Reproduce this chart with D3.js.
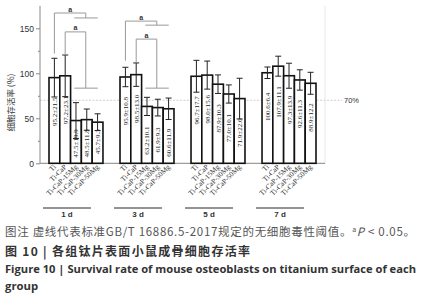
<!DOCTYPE html>
<html>
<head>
<meta charset="utf-8">
<script src="https://cdn.jsdelivr.net/npm/d3@7"></script>
<style>
  body { margin: 0; background: #fff; }
  svg { display: block; }
</style>
</head>
<body>
<svg id="chart" width="429" height="300"></svg>
<script>
const days = ['1 d', '3 d', '5 d', '7 d'];
const groups = ['Ti', 'Ti-CaP', 'Ti-CaP-15Mg', 'Ti-CaP-30Mg', 'Ti-CaP-50Mg'];
const means = [
  [95.2, 97.2, 47.5, 48.5, 45.7],
  [95.9, 98.5, 63.2, 61.9, 60.6],
  [96.7, 98.0, 87.9, 77.0, 71.9],
  [100.6, 107.9, 97.3, 92.6, 88.9]
];
const sds = [
  [21.5, 23.1, 19.9, 11.8, 9.3],
  [10.8, 13.0, 10.1, 9.3, 11.9],
  [17.7, 15.6, 10.3, 10.1, 22.6],
  [6.4, 11.1, 13.9, 11.3, 12.2]
];
const yTicks = [0, 50, 100, 150];
const yMinorTicks = [25, 75, 125];
const threshold = 70;
// significance brackets: day, bar it starts from, top level, leg bottom, level of the target line
const brackets = [
  {day: '1 d', from: 'Ti', top: 167, legEnd: 122, target: 161.5},
  {day: '1 d', from: 'Ti-CaP', top: 146, legEnd: 120, target: 83.5},
  {day: '3 d', from: 'Ti', top: 158, legEnd: 114, target: 153.5},
  {day: '3 d', from: 'Ti-CaP', top: 138, legEnd: 112, target: 83.5}
];

const svg = d3.select('#chart');
const pLeft = 40, pRight = 325, pTop = 5.8, pBottom = 163.3;

const x = d3.scaleBand().domain(days).range([49, 316]).paddingInner(0.24);
const xi = d3.scaleBand().domain(groups).range([0, x.bandwidth()]);
const y = d3.scaleLinear().domain([0, 175]).range([pBottom, pTop]);

// threshold line
svg.append('line')
  .attr('x1', pLeft).attr('x2', 342)
  .attr('y1', y(threshold)).attr('y2', y(threshold))
  .attr('stroke', '#bbb').attr('stroke-width', 0.7)
  .attr('stroke-dasharray', '2,1.5');
svg.append('text')
  .attr('x', 344).attr('y', y(threshold) + 3)
  .attr('font-family', 'Liberation Sans, sans-serif')
  .attr('font-size', 7.5).attr('fill', '#333')
  .text('70%');

// faint right border
svg.append('line')
  .attr('x1', pRight).attr('x2', pRight).attr('y1', pTop).attr('y2', pBottom)
  .attr('stroke', '#ddd').attr('stroke-width', 0.7);

// x baseline
svg.append('line')
  .attr('x1', pLeft).attr('x2', pRight).attr('y1', pBottom).attr('y2', pBottom)
  .attr('stroke', '#666').attr('stroke-width', 0.8);

const bars = [];
days.forEach((d, i) => groups.forEach((g, j) => bars.push({day: d, group: g, v: means[i][j], e: sds[i][j]})));
const cx = b => x(b.day) + xi(b.group) + xi.bandwidth() / 2;

const bar = svg.append('g').selectAll('g').data(bars).join('g');
bar.append('rect')
  .attr('x', b => x(b.day) + xi(b.group))
  .attr('y', b => y(b.v))
  .attr('width', xi.bandwidth())
  .attr('height', b => pBottom - y(b.v))
  .attr('fill', '#fff').attr('stroke', '#111').attr('stroke-width', 1.6);

// error bars
bar.append('line')
  .attr('x1', cx).attr('x2', cx)
  .attr('y1', b => y(b.v - b.e)).attr('y2', b => y(b.v + b.e))
  .attr('stroke', '#222').attr('stroke-width', 1);
bar.selectAll('.cap').data(b => [[b, b.v - b.e], [b, b.v + b.e]]).join('line')
  .attr('x1', d => cx(d[0]) - 3).attr('x2', d => cx(d[0]) + 3)
  .attr('y1', d => y(d[1])).attr('y2', d => y(d[1]))
  .attr('stroke', '#222').attr('stroke-width', 1);

// value labels inside bars
bar.append('text')
  .attr('transform', b => `translate(${cx(b) + 2.5},${Math.min(y(b.v) + 20, pBottom - 34)}) rotate(-90)`)
  .attr('text-anchor', 'end')
  .attr('font-family', 'Liberation Serif, serif')
  .attr('font-size', 7).attr('fill', '#222')
  .text(b => `${b.v.toFixed(1)}±${b.e.toFixed(1)}`);

// rotated group labels
bar.append('text')
  .attr('transform', b => `translate(${cx(b) + 2},${pBottom + 4}) rotate(-45)`)
  .attr('text-anchor', 'end')
  .attr('font-family', 'Liberation Serif, serif')
  .attr('font-size', 7.3).attr('fill', '#333')
  .text(b => b.group);

// day underline and labels
const dayG = svg.append('g').selectAll('g').data(days).join('g');
dayG.append('line')
  .attr('x1', d => x(d) - 6).attr('x2', d => x(d) + x.bandwidth() - 12)
  .attr('y1', 208).attr('y2', 208)
  .attr('stroke', '#111').attr('stroke-width', 0.9);
dayG.append('text')
  .attr('x', d => x(d) + x.bandwidth() / 2 - 9).attr('y', 217)
  .attr('text-anchor', 'middle')
  .attr('font-family', 'Liberation Sans, sans-serif')
  .attr('font-size', 8).attr('font-weight', 'bold').attr('fill', '#333')
  .text(d => d);

// significance brackets
const br = svg.append('g').selectAll('g').data(brackets).join('g')
  .attr('stroke', '#999').attr('stroke-width', 1).attr('fill', 'none');
const bx = b => x(b.day) + xi(b.from) + xi.bandwidth() / 2;
const tx = b => x(b.day) + xi('Ti-CaP-30Mg') + xi.bandwidth() / 2 - 1;
br.append('path')
  .attr('d', b => `M${bx(b)},${y(b.legEnd)}V${y(b.top)}H${tx(b)}V${y(b.target)}`);
br.append('path')
  .attr('d', b => `M${tx(b) - 11.5},${y(b.target)}H${tx(b) + 12}`);
br.append('text')
  .attr('x', b => (bx(b) + tx(b)) / 2).attr('y', b => y(b.top) - 1.5)
  .attr('text-anchor', 'middle')
  .attr('stroke', 'none').attr('fill', '#333')
  .attr('font-family', 'Liberation Sans, sans-serif')
  .attr('font-size', 7).attr('font-weight', 'bold')
  .text('a');

// caption
const cap = svg.append('g');
const line1 = cap.append('text')
  .attr('x', 5).attr('y', 236)
  .attr('font-family', 'Noto Sans CJK SC, sans-serif')
  .attr('font-size', 11.5).attr('fill', '#555')
  .attr('textLength', 410).attr('lengthAdjust', 'spacing');
line1.append('tspan').text('图注 虚线代表标准GB/T 16886.5-2017规定的无细胞毒性阈值。');
line1.append('tspan').attr('font-size', 7).attr('dy', -4.5).text('a');
line1.append('tspan').attr('dy', 4.5).attr('font-style', 'italic').text('P');
line1.append('tspan').text(' < 0.05。');
cap.append('text')
  .attr('x', 5).attr('y', 256)
  .attr('font-family', 'Noto Sans CJK SC, sans-serif')
  .attr('font-size', 12).attr('font-weight', 'bold').attr('fill', '#333')
  .attr('textLength', 245).attr('lengthAdjust', 'spacing')
  .text('图 10 | 各组钛片表面小鼠成骨细胞存活率');
cap.append('text')
  .attr('x', 5).attr('y', 273)
  .attr('font-family', 'Open Sans, sans-serif')
  .attr('font-size', 11.3).attr('font-weight', 'bold').attr('fill', '#333')
  .attr('textLength', 411).attr('lengthAdjust', 'spacingAndGlyphs')
  .text('Figure 10 | Survival rate of mouse osteoblasts on titanium surface of each');
cap.append('text')
  .attr('x', 5).attr('y', 290)
  .attr('font-family', 'Open Sans, sans-serif')
  .attr('font-size', 11.3).attr('font-weight', 'bold').attr('fill', '#333')
  .text('group');

// y axis, drawn last so nothing sits over its labels
const yAxis = svg.append('g')
  .attr('transform', `translate(${pLeft},0)`)
  .call(d3.axisLeft(y).tickValues(yTicks).tickSize(4).tickPadding(2));
yAxis.attr('font-family', 'Liberation Sans, sans-serif').attr('font-size', 8.5);
yAxis.select('.domain').attr('stroke', '#888').attr('d', `M0,${pTop}V${pBottom}`);
yAxis.selectAll('.tick line').attr('stroke', '#888');
yAxis.selectAll('.tick text').attr('fill', '#333');

svg.append('g')
  .attr('transform', `translate(${pLeft},0)`)
  .call(d3.axisLeft(y).tickValues(yMinorTicks).tickSize(2).tickFormat(''))
  .call(g => g.select('.domain').remove())
  .selectAll('.tick line').attr('stroke', '#888');

svg.append('text')
  .attr('transform', `translate(14,${(pBottom + pTop) / 2 + 18}) rotate(-90)`)
  .attr('text-anchor', 'middle')
  .attr('font-family', 'Noto Sans CJK SC, sans-serif')
  .attr('font-size', 8.5).attr('fill', '#333')
  .text('细胞存活率 (%)');
</script>
</body>
</html>
